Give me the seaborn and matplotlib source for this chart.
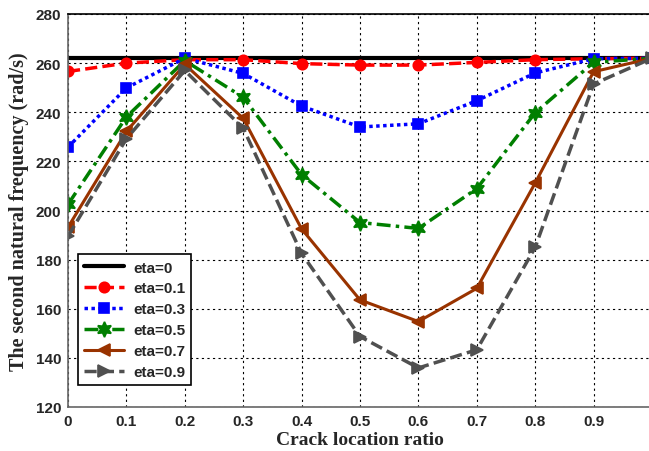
import numpy as np
import pandas as pd
import matplotlib
matplotlib.use("Agg")
import matplotlib.pyplot as plt
import seaborn as sns

# Crack location ratio and second natural frequency for each crack depth ratio
crack_location = [0.0, 0.1, 0.2, 0.3, 0.4, 0.5, 0.6, 0.7, 0.8, 0.9, 1.0]
freq_eta_0 = [262, 262, 262, 262, 262, 262, 262, 262, 262, 262, 262]
freq_eta_01 = [256.6, 260.0, 261.4, 261.4, 259.8, 259.2, 259.2, 260.3, 261.4, 261.8, 262]
freq_eta_03 = [225.8, 249.9, 262.0, 255.8, 242.5, 234.0, 235.3, 244.7, 256.0, 261.8, 262]
freq_eta_05 = [202.5, 238.1, 261.0, 246.1, 214.6, 195.1, 192.7, 208.9, 239.8, 260.3, 262]
freq_eta_07 = [193.2, 232.2, 259.5, 237.5, 192.5, 163.6, 154.8, 168.3, 211.2, 256.5, 262]
freq_eta_09 = [189.5, 229.2, 257.0, 233.5, 182.5, 148.7, 135.9, 143.3, 185.0, 251.5, 262]

labels = ["eta=0", "eta=0.1", "eta=0.3", "eta=0.5", "eta=0.7", "eta=0.9"]
series = [freq_eta_0, freq_eta_01, freq_eta_03, freq_eta_05, freq_eta_07, freq_eta_09]

x_ticks = [0, 0.1, 0.2, 0.3, 0.4, 0.5, 0.6, 0.7, 0.8, 0.9, 1]
x_ticklabels = ["0", "0.1", "0.2", "0.3", "0.4", "0.5", "0.6", "0.7", "0.8", "0.9", "1"]
y_ticks = [120, 140, 160, 180, 200, 220, 240, 260, 280]

sns.set_style("white")
plt.rcParams["font.family"] = ["Liberation Sans", "DejaVu Sans"]

styles = [
    dict(color="black", linestyle="-", marker=None, lw=3.0, ms=0),
    dict(color="#ff0000", linestyle=(0, (3.5, 1.5)), marker="o", lw=2.5, ms=7.5),
    dict(color="#0000ff", linestyle=(0, (1, 1)), marker="s", lw=2.5, ms=7.5),
    dict(color="#007f00", linestyle=(0, (4, 1.5, 1, 1.5)), marker=(6, 1, 0), lw=2.5, ms=11),
    dict(color="#993300", linestyle="-", marker="<", lw=2.2, ms=9),
    dict(color="#505050", linestyle=(0, (3.5, 1.5)), marker=">", lw=2.5, ms=9),
]

fig = plt.figure(figsize=(6.49, 4.52), dpi=100)
ax = fig.add_axes([68 / 649, 1 - 408 / 452, 584 / 649, 393 / 452])

for lab, vals, st in zip(labels, series, styles):
    df = pd.DataFrame({"loc": crack_location, "freq": vals})
    kw = dict(color=st["color"], linestyle=st["linestyle"], lw=st["lw"], label=lab)
    if st["marker"] is not None:
        kw.update(marker=st["marker"], markersize=st["ms"],
                  markeredgecolor=st["color"], markerfacecolor=st["color"],
                  markeredgewidth=1.2)
    sns.lineplot(data=df, x="loc", y="freq", ax=ax, **kw)

ax.set_xlim(0, 1)
ax.set_ylim(120, 280)
ax.set_xticks(x_ticks)
ax.set_xticklabels(x_ticklabels)
ax.set_yticks(y_ticks)
ax.grid(True, color="black", linestyle=(0, (2, 3)), linewidth=0.8)
ax.set_axisbelow(True)

for lbl in ax.get_xticklabels() + ax.get_yticklabels():
    lbl.set_fontweight("bold")
    lbl.set_fontsize(11)
ax.tick_params(axis="both", direction="in", length=5, width=1, color="#555555", pad=5)

for side in ["top", "right"]:
    ax.spines[side].set_color("black")
for side in ["left", "bottom"]:
    ax.spines[side].set_color("#666666")
for sp in ax.spines.values():
    sp.set_linewidth(1.2)

ax.set_xlabel("Crack location ratio", family=["Liberation Serif", "DejaVu Serif"],
              fontweight="bold", fontsize=14, labelpad=2)
ax.set_ylabel("The second natural frequency (rad/s)", family=["Liberation Serif", "DejaVu Serif"],
              fontweight="bold", fontsize=14.5, labelpad=5)

leg = ax.legend(loc="lower left", bbox_to_anchor=(0.017, 0.056), borderaxespad=0,
                frameon=True, fancybox=False, edgecolor="black", framealpha=1,
                prop={"weight": "bold", "size": 11}, handlelength=2.6,
                labelspacing=0.45, borderpad=0.4, handletextpad=0.6)
leg.get_frame().set_linewidth(1.2)

fig.savefig("out.png", dpi=100)
